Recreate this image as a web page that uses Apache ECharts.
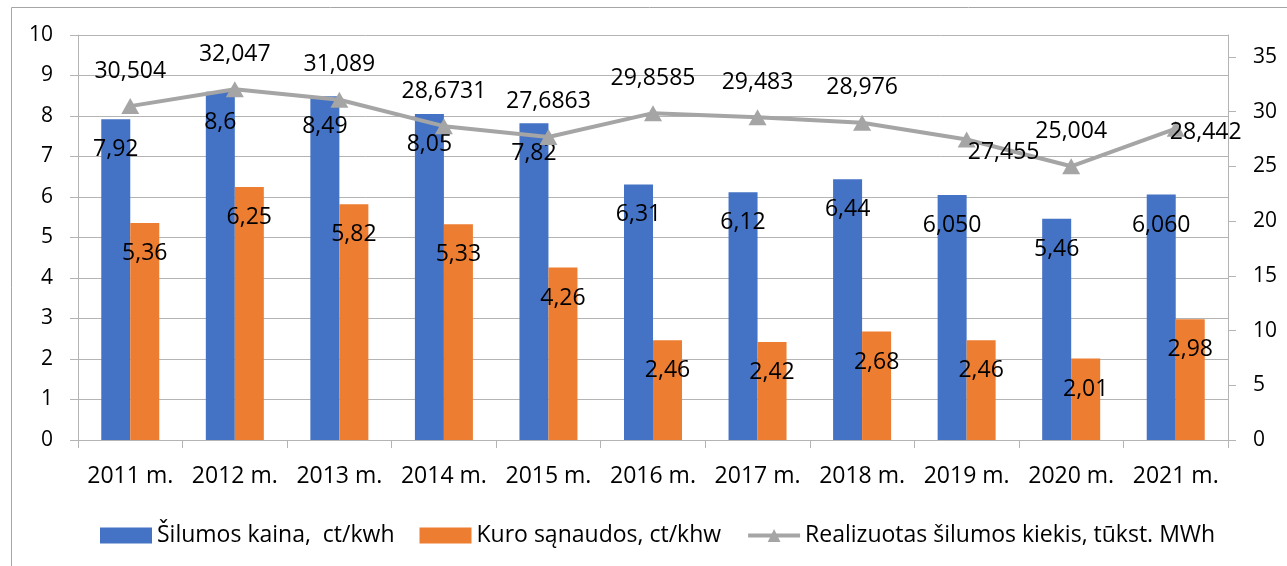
<!DOCTYPE html>
<html>
<head>
<meta charset="utf-8">
<script src="https://cdn.jsdelivr.net/npm/echarts@6/dist/echarts.min.js"></script>
<style>
html,body{margin:0;padding:0;background:#fff;}
#chart{width:1287px;height:566px;}
</style>
</head>
<body>
<div id="chart"></div>
<script>
// ---- data ----
const categories = ['2011 m.', '2012 m.', '2013 m.', '2014 m.', '2015 m.', '2016 m.', '2017 m.', '2018 m.', '2019 m.', '2020 m.', '2021 m.'];
const priceValues = ['7.92', '8.6', '8.49', '8.05', '7.82', '6.31', '6.12', '6.44', '6.050', '5.46', '6.060'];
const fuelValues = ['5.36', '6.25', '5.82', '5.33', '4.26', '2.46', '2.42', '2.68', '2.46', '2.01', '2.98'];
const heatValues = ['30.504', '32.047', '31.089', '28.6731', '27.6863', '29.8585', '29.483', '28.976', '27.455', '25.004', '28.442'];
const seriesNames = ['Šilumos kaina,  ct/kwh', 'Kuro sąnaudos, ct/khw', 'Realizuotas šilumos kiekis, tūkst. MWh'];
const leftTicks = [0, 1, 2, 3, 4, 5, 6, 7, 8, 9, 10];
const rightTicks = [0, 5, 10, 15, 20, 25, 30, 35];

// ---- style ----
const FONT = 'Open Sans';
const GRID_COLOR = '#B4B4B4';
const lineLabelOffsets = { 8: [37, 13], 10: [30, 4] };
const fmt = s => s.replace('.', ',');

const chart = echarts.init(document.getElementById('chart'));
const option = {
  animation: false,
  backgroundColor: '#fff',
  textStyle: { fontFamily: FONT },
  graphic: [{
    type: 'rect', left: 9, top: 5,
    shape: { width: 1276, height: 620 },
    style: { fill: 'none', stroke: '#A6A6A6', lineWidth: 1 },
    silent: true
  }],
  grid: { left: 78, right: 59, top: 35, bottom: 126 },
  legend: {
    left: 95, top: 519,
    itemWidth: 52, itemHeight: 16, itemGap: 25,
    textStyle: { fontFamily: FONT, fontSize: 23, color: '#000' },
    data: [
      { name: seriesNames[0], icon: 'rect' },
      { name: seriesNames[1], icon: 'rect' },
      { name: seriesNames[2], lineStyle: { width: 4, color: '#A5A5A5' } }
    ]
  },
  xAxis: {
    type: 'category',
    data: categories,
    axisLine: { show: true, lineStyle: { color: GRID_COLOR, width: 1 } },
    axisTick: { show: true, length: 8, lineStyle: { color: GRID_COLOR } },
    axisLabel: { fontFamily: FONT, fontSize: 23, color: '#000', margin: 25, interval: 0 }
  },
  yAxis: [{
    type: 'value', min: 0, max: 10, interval: 1,
    axisLine: { show: true, lineStyle: { color: GRID_COLOR } },
    axisTick: { show: true, length: 8, lineStyle: { color: GRID_COLOR }, customValues: leftTicks },
    axisLabel: { fontFamily: FONT, fontSize: 21, color: '#000', margin: 25, customValues: leftTicks },
    splitLine: { show: true, lineStyle: { color: GRID_COLOR, width: 1 } }
  }, {
    type: 'value', min: 0, max: 37, interval: 5,
    axisLine: { show: true, lineStyle: { color: GRID_COLOR } },
    axisTick: { show: true, length: 8, lineStyle: { color: GRID_COLOR }, customValues: rightTicks },
    axisLabel: { fontFamily: FONT, fontSize: 21, color: '#000', margin: 25, customValues: rightTicks },
    splitLine: { show: false }
  }],
  series: [{
    name: seriesNames[0],
    type: 'bar',
    data: priceValues.map(Number),
    barWidth: 29, barGap: '0%',
    itemStyle: { color: '#4472C4' },
    label: {
      show: true, position: 'insideTop', distance: 5, offset: [0, 14],
      fontFamily: FONT, fontSize: 23, color: '#000',
      formatter: p => fmt(priceValues[p.dataIndex])
    }
  }, {
    name: seriesNames[1],
    type: 'bar',
    data: fuelValues.map(Number),
    barWidth: 29, barGap: '0%',
    itemStyle: { color: '#ED7D31' },
    label: {
      show: true, position: 'insideTop', distance: 5, offset: [0, 14],
      fontFamily: FONT, fontSize: 23, color: '#000',
      formatter: p => fmt(fuelValues[p.dataIndex])
    }
  }, {
    name: seriesNames[2],
    type: 'line',
    yAxisIndex: 1,
    z: 5,
    data: heatValues.map((v, i) => {
      const item = { value: Number(v) };
      if (lineLabelOffsets[i]) item.label = { offset: lineLabelOffsets[i] };
      return item;
    }),
    symbol: 'triangle', symbolSize: [18, 16],
    lineStyle: { color: '#A5A5A5', width: 4 },
    itemStyle: { color: '#A5A5A5' },
    label: {
      show: true, position: 'inside', offset: [0, -35],
      fontFamily: FONT, fontSize: 23, color: '#000',
      formatter: p => fmt(heatValues[p.dataIndex])
    }
  }]
};
chart.setOption(option);
</script>
</body>
</html>
